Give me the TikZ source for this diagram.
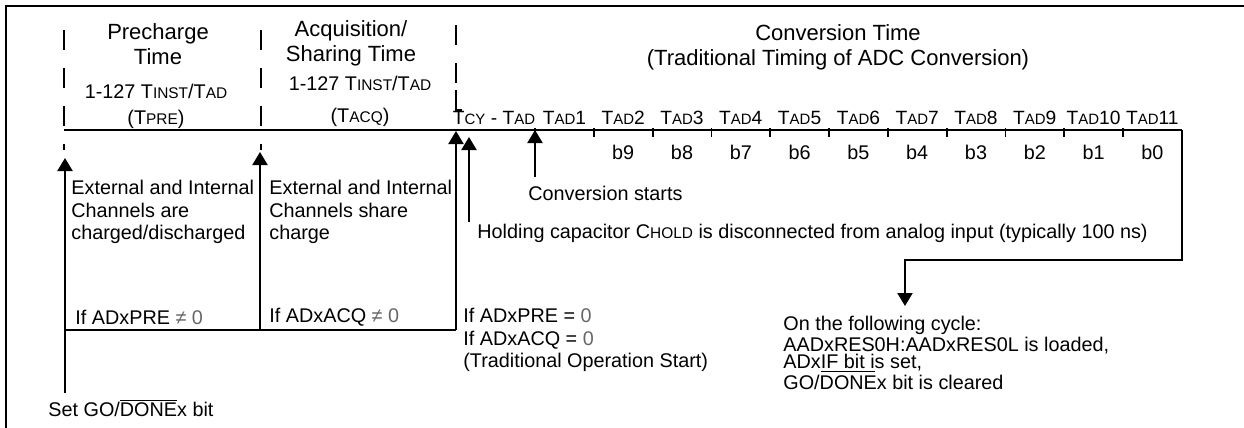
\documentclass[tikz,border=0pt]{standalone}
\usepackage{fontspec}
\setmainfont{Liberation Sans}
\usetikzlibrary{arrows.meta,positioning}

\newcommand\smcap[1]{\scalebox{0.78}{#1}}
\newcommand\ovl[1]{$\overline{\mbox{#1}}$}
\newcommand\headfont{\fontsize{11pt}{12.6pt}\selectfont}
\newcommand\notefont{\fontsize{9.9pt}{11.4pt}\selectfont}
\newcommand\slotfont{\fontsize{9.6pt}{11pt}\selectfont}
\newcommand\grayzero{\textcolor{black!60}{0}}
\newcommand\grayne{\textcolor{black!60}{≠ 0}}

\begin{document}
\begin{tikzpicture}[
        x=0.5pt, y=-0.5pt,
        >={Triangle[width=7.5pt,length=6.5pt]},
        rail/.style={line width=1pt},
        relation/.style={->, line width=1pt},
        boundary/.style={line width=1pt, dash pattern=on 10pt off 9pt},
        notch/.style={line width=0.9pt},
        heading/.style={font=\headfont, align=center, inner sep=0pt},
        period/.style={font=\notefont, align=center, inner sep=0pt},
        slot/.style={font=\slotfont, inner sep=0pt},
        note/.style={font=\notefont, align=left, anchor=west, inner sep=0pt}
    ]

    \useasboundingbox (0,0) rectangle (1244,428);

    \draw[rail] (6,428) -- (6,6) -- (1244,6);

    \node[heading] (pretitle) at (158,44) {Precharge\\Time};

    \node[heading] (acqtitle) at (351,43) {Acquisition/\\Sharing Time};

    \node[heading] (convtitle) at (838,47)
        {Conversion Time\\(Traditional Timing of ADC Conversion)};

    \node[period] (pretime) at (156,106)
        {1-127 T\smcap{INST}/T\smcap{AD}\\[1.5pt](T\smcap{PRE})};

    \node[period] (acqtime) at (360,101)
        {1-127 T\smcap{INST}/T\smcap{AD}\\[4.5pt](T\smcap{ACQ})};

    \coordinate (start) at (64,130);
    \coordinate (acq) at (261,130);
    \coordinate (conv) at (456,130);
    \coordinate (tend) at (1182,130);

    \draw[rail] (start) -- (tend);

    \draw[boundary] (64,30) -- (64,150);
    \draw[boundary] (261,30) -- (261,150);
    \draw[boundary] (456,25) -- (456,90);
    \draw[line width=0.6pt] (456,90) |- (462,110);

    \foreach \k in {0,...,10}
        \draw[notch] ({535+58.8*\k},128) -- ++(0,9);

    \node[slot] (tcy) at (494,118) {T\smcap{CY} - T\smcap{AD}};

    \foreach \k in {1,...,11}
        \node[slot] (tad\k) at ({535+58.8*\k-29.4},118) {T\smcap{AD}\k};

    \foreach \k [evaluate=\k as \b using int(11-\k)] in {2,...,11}
        \node[slot, font=\notefont] (b\b) at ({535+58.8*\k-29.4},152) {b\b};

    \node[note] (prenote) at (71,212)
        {External and Internal\\Channels are\\charged/discharged};

    \node[note] (acqnote) at (269,212)
        {External and Internal\\Channels share\\charge};

    \node[note] (startnote) at (528,193) {Conversion starts};

    \node[note] (holdnote) at (477,233)
        {Holding capacitor C\smcap{HOLD} is disconnected from analog input (typically 100 ns)};

    \node[note] (precond) at (75,317) {If ADxPRE \grayne};

    \node[note] (acqcond) at (269,317) {If ADxACQ \grayne};

    \node[note] (tradcond) at (463,340)
        {If ADxPRE = \grayzero\\If ADxACQ = \grayzero\\(Traditional Operation Start)};

    \node[note] (setgo) at (48,408) {Set GO/\ovl{DONE}x bit};

    \node[note, font=\fontsize{9.9pt}{8.7pt}\selectfont] (result) at (783,353)
        {On the following cycle:\\AADxRES0H:AADxRES0L is loaded,\\ADx\underline{IF bit i}s set,\\GO/DONEx bit is cleared};

    \coordinate (golow) at (65,393);
    \coordinate (preup) at (65,158);
    \coordinate (prebase) at (65,330);
    \coordinate (acqbase) at (260,330);
    \coordinate (acqup) at (260,152);
    \coordinate (convbase) at (456,330);
    \coordinate (convup) at (456,131);
    \coordinate (holdlow) at (469,222);
    \coordinate (holdup) at (469,137);
    \coordinate (startlow) at (535,177);
    \coordinate (startup) at (535,130);
    \coordinate (turn) at (1182,260);
    \coordinate (drop) at (905,306);

    \draw[relation] (golow) -- (preup);

    \draw[rail] (prebase) -- (convbase);

    \draw[relation] (acqbase) -- (acqup);

    \draw[relation] (convbase) -- (convup);

    \draw[relation] (holdlow) -- (holdup);

    \draw[relation] (startlow) -- (startup);

    \draw[relation] (tend) -- (turn) -| (drop);

\end{tikzpicture}
\end{document}
